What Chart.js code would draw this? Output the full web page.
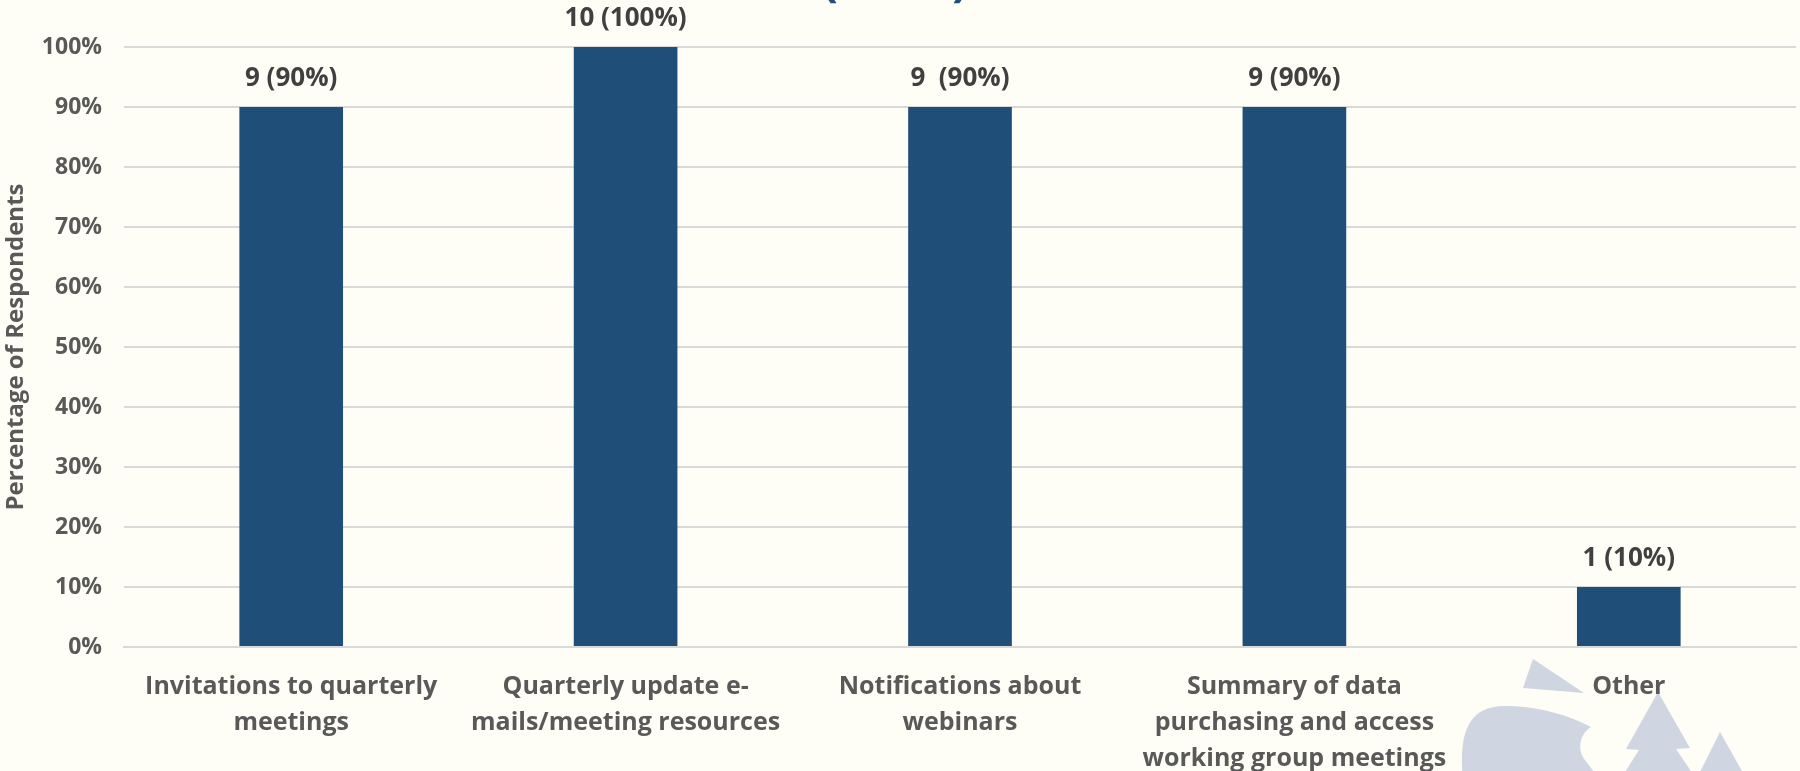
<!DOCTYPE html>
<html>
<head>
<meta charset="utf-8">
<script src="https://cdn.jsdelivr.net/npm/chart.js@4.4.1/dist/chart.umd.min.js"></script>
<style>
    html, body { margin: 0; padding: 0; background: #FEFEF6; overflow: hidden; }
    #wrap { width: 1800px; height: 780px; position: relative; }
</style>
</head>
<body>
<div id="wrap"><canvas id="bar-chart"></canvas></div>
<script>
// categories, series values, labels
var categories = [
    ['Invitations to quarterly', 'meetings'],
    ['Quarterly update e-', 'mails/meeting resources'],
    ['Notifications about', 'webinars'],
    ['Summary of data', 'purchasing and access', 'working group meetings'],
    ['Other']
];
var counts = [9, 10, 9, 9, 1];
var percents = [90, 100, 90, 90, 10];
var valueLabels = ['9 (90%)', '10 (100%)', '9  (90%)', '9 (90%)', '1 (10%)'];
var yTicks = [0, 10, 20, 30, 40, 50, 60, 70, 80, 90, 100];

var FONT = "'Open Sans', 'DejaVu Sans', sans-serif";

//Background, cut-off title and faint logo in the corner
var backdrop = {
    id: 'backdrop',
    beforeDraw: function(chart) {
        var ctx = chart.ctx;
        ctx.save();
        ctx.fillStyle = '#FEFEF6';
        ctx.fillRect(0, 0, chart.width, chart.height);

        ctx.fillStyle = '#1F4E79';
        ctx.font = 'bold 48px ' + FONT;
        ctx.textAlign = 'center';
        ctx.textBaseline = 'alphabetic';
        ctx.fillText('(n=10)', 895, -4);

        ctx.fillStyle = '#CFD6E2';
        ctx.beginPath();
        ctx.moveTo(1533, 659); ctx.lineTo(1523, 688); ctx.lineTo(1584, 693);
        ctx.closePath(); ctx.fill();

        ctx.beginPath();
        ctx.moveTo(1463, 780);
        ctx.bezierCurveTo(1458, 730, 1470, 706, 1505, 706);
        ctx.bezierCurveTo(1540, 706, 1570, 716, 1591, 727);
        ctx.bezierCurveTo(1578, 735, 1578, 752, 1585, 760);
        ctx.lineTo(1600, 780);
        ctx.closePath(); ctx.fill();

        ctx.beginPath();
        ctx.moveTo(1658, 692);
        ctx.lineTo(1690, 748); ctx.lineTo(1676, 749); ctx.lineTo(1697, 780);
        ctx.lineTo(1620, 780); ctx.lineTo(1639, 750); ctx.lineTo(1626, 749);
        ctx.closePath(); ctx.fill();

        ctx.beginPath();
        ctx.moveTo(1720, 732); ctx.lineTo(1747, 780); ctx.lineTo(1696, 780);
        ctx.closePath(); ctx.fill();
        ctx.restore();
    }
};

//Value labels above bars
var barLabels = {
    id: 'barLabels',
    afterDatasetsDraw: function(chart) {
        var ctx = chart.ctx;
        var meta = chart.getDatasetMeta(0);
        ctx.save();
        ctx.fillStyle = '#404040';
        ctx.font = 'bold 26px ' + FONT;
        ctx.textAlign = 'center';
        ctx.textBaseline = 'middle';
        meta.data.forEach(function(bar, i) {
            ctx.fillText(valueLabels[i], bar.x, bar.y - 28);
        });
        ctx.restore();
    }
};

var barCtx = document.getElementById('bar-chart').getContext('2d');
var barChart = new Chart(barCtx, {
    type: 'bar',
    data: {
        labels: categories,
        datasets: [
            {
                data: percents,
                counts: counts,
                backgroundColor: '#1F4E79',
                barPercentage: 0.31,
                categoryPercentage: 1,
            }
        ]
    },
    options: {
        responsive: true,
        maintainAspectRatio: false,
        animation: false,
        layout: {
            padding: {top: 47, right: 4, left: 0, bottom: 0}
        },
        plugins: {
            legend: {display: false},
            tooltip: {enabled: false},
        },
        scales: {
            x: {
                afterFit: function(scale) { scale.height = 133; },
                grid: {display: false},
                border: {display: true, color: '#D9D9D9', width: 2},
                ticks: {
                    color: '#595959',
                    padding: 14,
                    maxRotation: 0,
                    autoSkip: false,
                    font: {family: FONT, size: 25, weight: 'bold', lineHeight: '36px'},
                },
            },
            y: {
                min: 0,
                max: 100,
                afterFit: function(scale) { scale.width = 124; },
                afterBuildTicks: function(scale) {
                    scale.ticks = yTicks.map(function(v) { return {value: v}; });
                },
                grid: {color: '#D9D9D9', lineWidth: 2, drawTicks: false},
                border: {display: false},
                ticks: {
                    color: '#595959',
                    padding: 22,
                    font: {family: FONT, size: 23, weight: 'bold'},
                    callback: function(v) { return v + '%'; },
                },
                title: {
                    display: true,
                    text: 'Percentage of Respondents',
                    color: '#595959',
                    padding: {top: 2, bottom: 0},
                    font: {family: FONT, size: 24, weight: 'bold'},
                },
            }
        }
    },
    plugins: [backdrop, barLabels]
});
</script>
</body>
</html>
